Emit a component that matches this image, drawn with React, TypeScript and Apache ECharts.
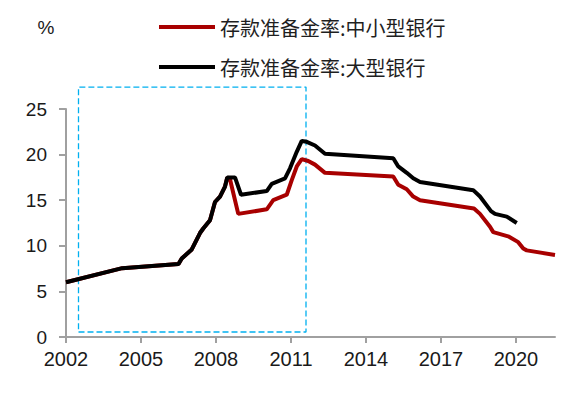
import React, { useEffect, useRef } from "react";
import * as echarts from "echarts";

const seriesNames = ["存款准备金率:中小型银行", "存款准备金率:大型银行"];
const tickYears = [2002, 2005, 2008, 2011, 2014, 2017, 2020];

const largeYears = [
  2002.0, 2004.25, 2006.5, 2006.63, 2007.03, 2007.36, 2007.49, 2007.76, 2007.96,
  2008.16, 2008.36, 2008.45, 2008.76, 2009.0, 2010.03, 2010.23, 2010.76, 2010.96,
  2011.23, 2011.43, 2011.63, 2011.96, 2012.36, 2015.09, 2015.29, 2015.63, 2015.89,
  2016.16, 2018.29, 2018.56, 2019.0, 2019.16, 2019.63, 2020.03,
];
const largeRates = [
  6.0, 7.55, 8.0, 8.6, 9.6, 11.4, 11.9, 12.8, 14.8,
  15.4, 16.5, 17.5, 17.5, 15.6, 16.0, 16.8, 17.4, 18.5,
  20.3, 21.5, 21.4, 21.0, 20.1, 19.6, 18.7, 18.0, 17.4,
  17.0, 16.1, 15.4, 13.8, 13.5, 13.2, 12.5,
];

const smallYears = [
  2002.0, 2004.25, 2006.5, 2006.63, 2007.03, 2007.36, 2007.49, 2007.76, 2007.96,
  2008.16, 2008.36, 2008.45, 2008.56, 2008.89, 2010.03, 2010.29, 2010.83, 2011.03,
  2011.23, 2011.43, 2011.69, 2011.96, 2012.36, 2015.09, 2015.29, 2015.63, 2015.89,
  2016.16, 2018.32, 2018.56, 2018.96, 2019.09, 2019.72, 2020.09, 2020.29, 2020.43,
  2021.56,
];
const smallRates = [
  6.0, 7.55, 8.0, 8.6, 9.6, 11.4, 11.9, 12.8, 14.8,
  15.4, 16.5, 17.5, 17.3, 13.5, 14.0, 15.0, 15.6, 17.2,
  18.7, 19.5, 19.3, 18.9, 18.0, 17.6, 16.7, 16.2, 15.4,
  15.0, 14.1, 13.5, 12.1, 11.5, 11.0, 10.4, 9.7, 9.5,
  9.0,
];

// highlight box corners (closed outline)
const boxYears = [2002.5, 2011.6, 2011.6, 2002.5, 2002.5];
const boxRates = [0.55, 0.55, 27.4, 27.4, 0.55];

export default function App() {
  const ref = useRef<HTMLDivElement>(null);
  useEffect(() => {
    if (!ref.current) return;
    const chart = echarts.init(ref.current, null, { renderer: "svg" });
    const axisColor = "#A0A0A0";
    const labelColor = "#1a1a1a";
    const font = "Liberation Sans, Arial, sans-serif";
    chart.setOption({
      animation: false,
      grid: { left: 66, right: 12, top: 109, bottom: 62, containLabel: false },
      legend: {
        orient: "vertical",
        left: 159,
        top: 17,
        padding: 0,
        icon: "rect",
        itemWidth: 56,
        itemHeight: 4,
        itemGap: 20,
        data: seriesNames,
        textStyle: {
          fontSize: 20,
          lineHeight: 20,
          color: "#1f1f1f",
          fontFamily: "Noto Sans CJK SC",
        },
      },
      xAxis: {
        type: "value",
        min: 2002,
        max: 2021.56,
        splitLine: { show: false },
        axisLine: { show: true, lineStyle: { color: axisColor, width: 2 } },
        axisTick: {
          show: true,
          length: 6,
          customValues: tickYears,
          lineStyle: { color: axisColor, width: 2 },
        },
        axisLabel: {
          customValues: tickYears,
          formatter: (v: number) => String(v),
          fontSize: 20,
          color: labelColor,
          margin: 12,
          fontFamily: font,
        },
      },
      yAxis: {
        type: "value",
        min: 0,
        max: 25,
        interval: 5,
        name: "%",
        nameLocation: "end",
        nameGap: 72,
        nameTextStyle: {
          fontSize: 19,
          color: labelColor,
          fontFamily: font,
          align: "center",
          padding: [0, 40, 0, 0],
        },
        splitLine: { show: false },
        axisLine: { show: true, lineStyle: { color: axisColor, width: 2 } },
        axisTick: { show: true, length: 7, lineStyle: { color: axisColor, width: 2 } },
        axisLabel: {
          fontSize: 19,
          color: labelColor,
          margin: 19,
          fontFamily: font,
        },
      },
      series: [
        {
          name: "box",
          type: "line",
          symbol: "none",
          clip: false,
          silent: true,
          z: 1,
          lineStyle: { width: 1.3, color: "#00B0F0", type: [6, 3] },
          data: boxYears.map((y, i) => [y, boxRates[i]]),
        },
        {
          name: seriesNames[0],
          type: "line",
          symbol: "none",
          z: 2,
          color: "#A80000",
          lineStyle: { width: 4, color: "#A80000" },
          data: smallYears.map((y, i) => [y, smallRates[i]]),
        },
        {
          name: seriesNames[1],
          type: "line",
          symbol: "none",
          z: 3,
          color: "#000000",
          lineStyle: { width: 4, color: "#000000" },
          data: largeYears.map((y, i) => [y, largeRates[i]]),
        },
      ],
    });
    return () => chart.dispose();
  }, []);
  return (
    <div
      ref={ref}
      style={{ position: "fixed", left: 0, top: 0, width: 567, height: 399, background: "#fff" }}
    />
  );
}
